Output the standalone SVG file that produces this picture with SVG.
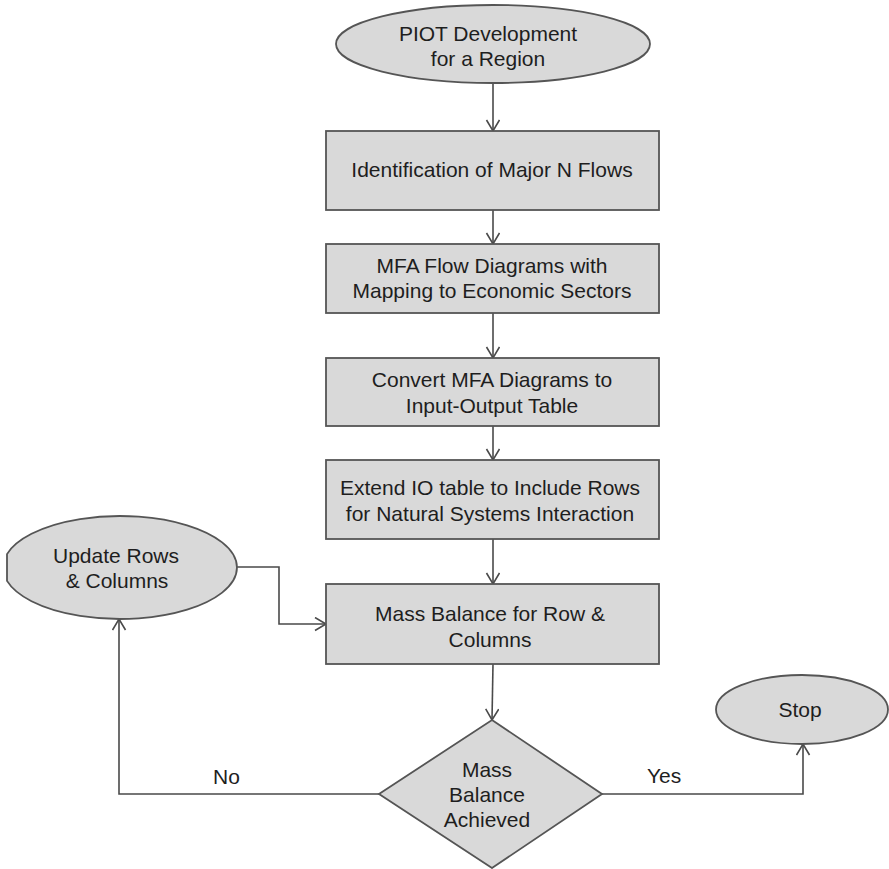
<svg xmlns="http://www.w3.org/2000/svg" width="889" height="869" viewBox="0 0 889 869">
  <style>
    .shape { fill: #d9d9d9; stroke: #555555; stroke-width: 1.8; }
    .edge { fill: none; stroke: #4a4a4a; stroke-width: 1.6; }
    .lbl { font-family: "Liberation Sans", Arial, sans-serif; font-size: 21px; fill: #1e1e1e; text-anchor: middle; }
    .tag { font-family: "Liberation Sans", Arial, sans-serif; font-size: 21px; fill: #1e1e1e; }
  </style>
  <defs>
    <marker id="arrow" markerUnits="userSpaceOnUse" markerWidth="14" markerHeight="16" refX="12" refY="7" orient="auto">
      <path d="M1,0.5 L12,7 L1,13.5" fill="none" stroke="#4a4a4a" stroke-width="1.6"/>
    </marker>
  </defs>

  <rect width="889" height="869" fill="#ffffff"/>

  <!-- connectors -->
  <g id="connectors">
    <line class="edge" x1="493" y1="83" x2="493" y2="131" marker-end="url(#arrow)"/>
    <line class="edge" x1="493" y1="210" x2="493" y2="244" marker-end="url(#arrow)"/>
    <line class="edge" x1="493" y1="313" x2="493" y2="358" marker-end="url(#arrow)"/>
    <line class="edge" x1="493" y1="426" x2="493" y2="460" marker-end="url(#arrow)"/>
    <line class="edge" x1="493" y1="539" x2="493" y2="584" marker-end="url(#arrow)"/>
    <line class="edge" x1="493" y1="664" x2="492" y2="720" marker-end="url(#arrow)"/>
    <polyline class="edge" points="237,567 279,567 279,624 326,624" marker-end="url(#arrow)"/>
    <polyline class="edge" points="379,794 119,794 119,619" marker-end="url(#arrow)"/>
    <polyline class="edge" points="602,794 803,794 803,744" marker-end="url(#arrow)"/>
    <text class="tag" x="213" y="784">No</text>
    <text class="tag" x="647" y="783">Yes</text>
  </g>

  <!-- nodes -->
  <g id="start">
    <ellipse class="shape" cx="493" cy="44" rx="157" ry="39"/>
    <text class="lbl" x="488" y="41">PIOT Development</text>
    <text class="lbl" x="488" y="66">for a Region</text>
  </g>

  <g id="identify">
    <rect class="shape" x="326" y="131" width="333" height="79"/>
    <text class="lbl" x="492" y="177">Identification of Major N Flows</text>
  </g>

  <g id="mfa">
    <rect class="shape" x="326" y="244" width="333" height="69"/>
    <text class="lbl" x="492" y="273">MFA Flow Diagrams with</text>
    <text class="lbl" x="492" y="298">Mapping to Economic Sectors</text>
  </g>

  <g id="convert">
    <rect class="shape" x="326" y="358" width="333" height="68"/>
    <text class="lbl" x="492" y="387">Convert MFA Diagrams to</text>
    <text class="lbl" x="492" y="413">Input-Output Table</text>
  </g>

  <g id="extend">
    <rect class="shape" x="326" y="460" width="333" height="79"/>
    <text class="lbl" x="490" y="495">Extend IO table to Include Rows</text>
    <text class="lbl" x="490" y="521">for Natural Systems Interaction</text>
  </g>

  <g id="balance">
    <rect class="shape" x="326" y="584" width="333" height="80"/>
    <text class="lbl" x="490" y="621">Mass Balance for Row &amp;</text>
    <text class="lbl" x="490" y="647">Columns</text>
  </g>

  <g id="decision">
    <polygon class="shape" points="492,720 602,794 492,868 379,794"/>
    <text class="lbl" x="487" y="777">Mass</text>
    <text class="lbl" x="487" y="802">Balance</text>
    <text class="lbl" x="487" y="827">Achieved</text>
  </g>

  <g id="update">
    <path class="shape" d="M7,554.1 A117,51.5 0 1 1 7,580.9 Z"/>
    <text class="lbl" x="116" y="563">Update Rows</text>
    <text class="lbl" x="117" y="588">&amp; Columns</text>
  </g>

  <g id="stop">
    <ellipse class="shape" cx="802" cy="709.5" rx="86" ry="34.5"/>
    <text class="lbl" x="800" y="717">Stop</text>
  </g>
</svg>
